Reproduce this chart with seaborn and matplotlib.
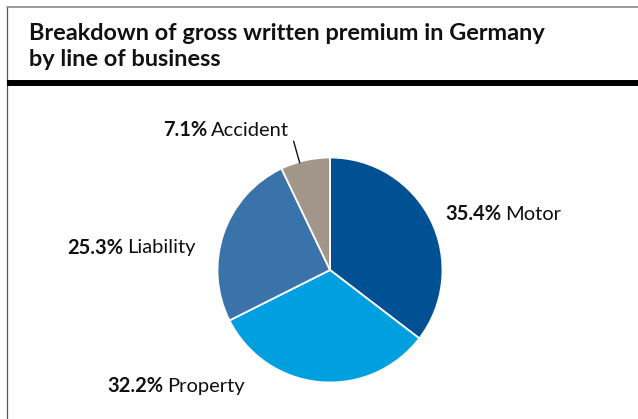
import matplotlib
matplotlib.use("Agg")
import matplotlib.pyplot as plt
from matplotlib.lines import Line2D
import numpy as np
import seaborn as sns

# Gross written premium in Germany, share by line of business (%)
categories = ["Motor", "Property", "Liability", "Accident"]
shares = [35.4, 32.2, 25.3, 7.1]
colors = ["#005193", "#009FE0", "#3A72AA", "#A2968B"]
title_lines = ["Breakdown of gross written premium in Germany", "by line of business"]

sns.set_theme(style="white")
FONT = "Lato"
plt.rcParams["font.family"] = [FONT, "DejaVu Sans"]

W, H, DPI = 638, 419, 100
fig = plt.figure(figsize=(W / DPI, H / DPI), dpi=DPI)
fig.patch.set_facecolor("white")


def fx(px):
    return px / W


def fy(py):
    return 1 - py / H


# frame: thin top and left border, heavy rule under the title
fig.add_artist(Line2D([fx(7), fx(7)], [fy(7), fy(H)], color="#555555", lw=0.9))
fig.add_artist(Line2D([fx(7), 1], [fy(7.5), fy(7.5)], color="#888888", lw=1.2))
fig.add_artist(Line2D([fx(7), 1], [fy(83.5), fy(83.5)], color="black", lw=4.3,
                      solid_capstyle="butt"))

for i, line in enumerate(title_lines):
    fig.text(fx(29), fy(34 + i * 25), line, fontsize=16.9, fontweight="bold",
             color="#111111", va="center", ha="left")

# pie axes: centre (330, 270) px, radius 112.5 px
cx, cy, r = 330, 270, 112.5
ax = fig.add_axes([fx(cx - r), fy(cy + r), 2 * r / W, 2 * r / H])
wedges, _ = ax.pie(shares, colors=colors, startangle=90, counterclock=False,
                   radius=1.0, wedgeprops=dict(edgecolor="white", linewidth=1.3))
ax.set_xlim(-1, 1)
ax.set_ylim(-1, 1)
ax.set_aspect("equal")
ax.axis("off")

fig.canvas.draw()
renderer = fig.canvas.get_renderer()

# label anchors (left edge, vertical centre) in px
label_pos = {
    "Motor": (445, 214),
    "Property": (107, 386),
    "Liability": (67, 248),
    "Accident": (163, 130),
}
for cat, val in zip(categories, shares):
    x0, y0 = label_pos[cat]
    t = fig.text(fx(x0), fy(y0), f"{val:.1f}%", fontsize=14.5, fontweight="bold",
                 color="#111111", va="center", ha="left")
    bb = t.get_window_extent(renderer)
    fig.text(bb.x1 / W + fx(4), fy(y0), cat, fontsize=14.5, color="#111111",
             va="center", ha="left")

# leader line for the small Accident slice
acc = wedges[categories.index("Accident")]
mid = np.deg2rad((acc.theta1 + acc.theta2) / 2 + 3)
ax.plot([0.99 * np.cos(mid), 1.19 * np.cos(mid)],
        [0.99 * np.sin(mid), 1.19 * np.sin(mid)],
        color="#111111", lw=1.0, clip_on=False)

fig.savefig("out.png", dpi=DPI, facecolor="white")
